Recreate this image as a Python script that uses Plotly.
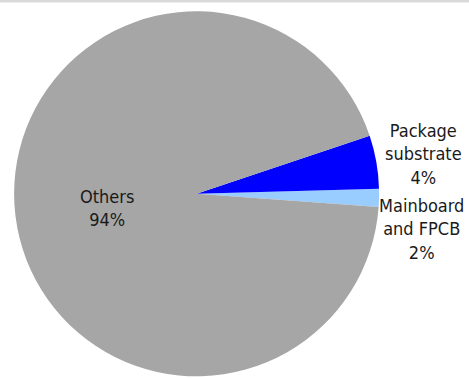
import plotly.graph_objects as go

labels = ["Mainboard and FPCB", "Package substrate", "Others"]
values = [1.6, 4.7, 93.7]
pct_text = ["2%", "4%", "94%"]
colors = ["#99ccff", "#0000ff", "#a6a6a6"]

W, H = 469, 378
cx, cy, R = 196.6, 193.8, 182.5  # pixel geometry of pie

fig = go.Figure()
fig.add_trace(go.Pie(
    labels=labels,
    values=values,
    sort=False,
    direction="counterclockwise",
    rotation=88.4,
    marker=dict(colors=colors, line=dict(width=0)),
    textinfo="none",
    hoverinfo="label+percent",
    showlegend=False,
    domain=dict(x=[(cx - R) / W, (cx + R) / W], y=[(H - cy - R) / H, (H - cy + R) / H]),
))

font = dict(family="DejaVu Sans Condensed, DejaVu Sans", size=18, color="#1a1a1a")
ann = [
    ("Others<br>" + pct_text[2], 106.5, 208),
    ("Package<br>substrate<br>" + pct_text[1], 423, 154),
    ("Mainboard<br>and FPCB<br>" + pct_text[0], 421, 228.5),
]
for txt, x, y in ann:
    fig.add_annotation(text=txt, x=x / W, y=1 - y / H, xref="paper", yref="paper",
                       showarrow=False, font=font, align="center",
                       xanchor="center", yanchor="middle")

fig.add_shape(type="line", xref="paper", yref="paper", x0=0, x1=1, y0=1 - 1 / H, y1=1 - 1 / H,
              line=dict(color="#d9d9d9", width=3))

fig.update_layout(width=W, height=H, margin=dict(l=0, r=0, t=0, b=0),
                  paper_bgcolor="white", plot_bgcolor="white")
fig.write_html("out.html")
